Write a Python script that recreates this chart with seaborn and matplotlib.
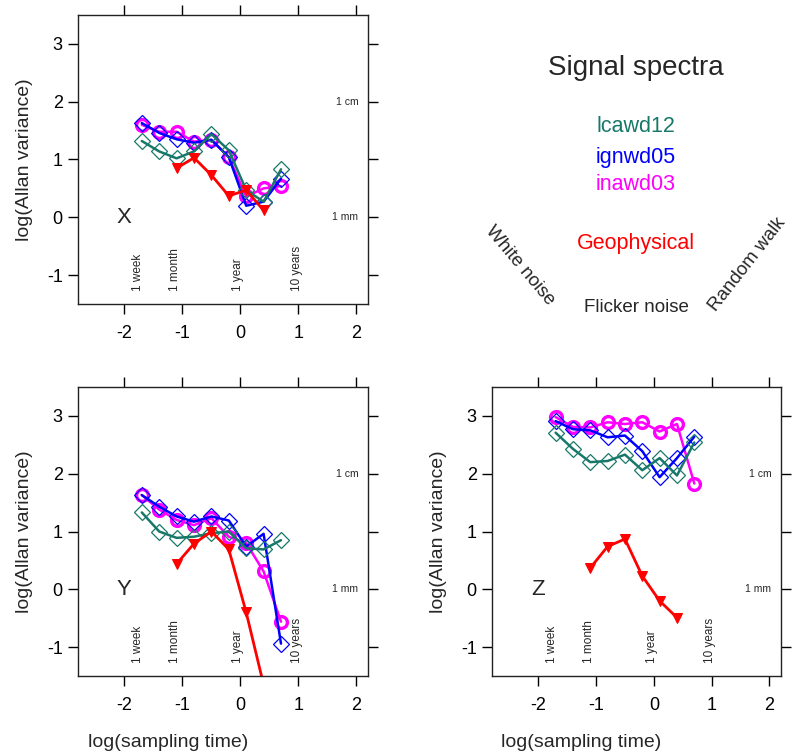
import numpy as np
import pandas as pd
import matplotlib
matplotlib.use("Agg")
import matplotlib.pyplot as plt
import seaborn as sns

# ---------------- data ----------------
log_tau = [-1.7, -1.4, -1.1, -0.8, -0.5, -0.2, 0.1, 0.4, 0.7]
log_tau_geo = [-1.1, -0.8, -0.5, -0.2, 0.1, 0.4]

x_lcawd12 = [1.32, 1.14, 1.02, 1.14, 1.44, 1.16, 0.47, 0.27, 0.83]
x_ignwd05 = [1.63, 1.46, 1.35, 1.29, 1.34, 1.04, 0.20, 0.27, 0.67]
x_inawd03 = [1.60, 1.48, 1.48, 1.31, 1.34, 1.04, 0.36, 0.50, 0.54]
x_geo = [0.85, 1.03, 0.73, 0.37, 0.47, 0.12]

y_lcawd12 = [1.33, 1.00, 0.89, 0.91, 0.97, 1.00, 0.71, 0.69, 0.85]
y_ignwd05 = [1.63, 1.43, 1.26, 1.17, 1.26, 1.19, 0.74, 0.96, -0.94]
y_inawd03 = [1.63, 1.38, 1.20, 1.11, 1.23, 0.91, 0.80, 0.31, -0.56]
y_geo = [0.44, 0.79, 1.00, 0.69, -0.40, -1.65]

z_lcawd12 = [2.71, 2.43, 2.20, 2.22, 2.33, 2.06, 2.27, 1.97, 2.54]
z_ignwd05 = [2.91, 2.77, 2.75, 2.63, 2.66, 2.39, 1.94, 2.27, 2.64]
z_inawd03 = [2.98, 2.81, 2.80, 2.89, 2.86, 2.89, 2.73, 2.86, 1.83]
z_geo = [0.37, 0.74, 0.87, 0.23, -0.20, -0.49]

time_labels = ["1 week", "1 month", "1 year", "10 years"]
time_label_pos = [-1.76, -1.12, -0.04, 0.97]
scale_labels = ["1 cm", "1 mm"]
scale_label_pos = [2, 0]
x_ticks = [-2, -1, 0, 1, 2]
y_ticks = [-1, 0, 1, 2, 3]
panel_names = ["X", "Y", "Z"]
series_names = ["lcawd12", "ignwd05", "inawd03", "Geophysical"]

# ---------------- style ----------------
sns.set_style("ticks")
plt.rcParams["font.family"] = ["Liberation Sans", "DejaVu Sans"]
plt.rcParams["axes.linewidth"] = 1.0

C_TEAL = "#17786a"
C_BLUE = "#0000ff"
C_MAG = "#ff00ff"
C_RED = "#ff0000"

fig = plt.figure(figsize=(7.99, 7.52), dpi=100)
W, H = 799, 752

def axes_px(left, top, right, bottom):
    return fig.add_axes([left / W, 1 - bottom / H, (right - left) / W, (bottom - top) / H])

ax_x = axes_px(78, 15, 368, 304)
ax_y = axes_px(78, 387, 368, 676)
ax_z = axes_px(492, 387, 781, 676)

panels = [
    (ax_x, x_lcawd12, x_ignwd05, x_inawd03, x_geo, False),
    (ax_y, y_lcawd12, y_ignwd05, y_inawd03, y_geo, True),
    (ax_z, z_lcawd12, z_ignwd05, z_inawd03, z_geo, True),
]

for (ax, lc, ig, ina, geo, show_xlabel), name in zip(panels, panel_names):
    sns.lineplot(x=log_tau, y=ina, ax=ax, color=C_MAG, lw=1.8, marker="o",
                 markersize=8.5, markerfacecolor="none", markeredgecolor=C_MAG,
                 markeredgewidth=2.4, estimator=None, sort=False)
    sns.lineplot(x=log_tau, y=ig, ax=ax, color=C_BLUE, lw=1.8, marker="D",
                 markersize=8, markerfacecolor="none", markeredgecolor=C_BLUE,
                 markeredgewidth=0.9, estimator=None, sort=False)
    sns.lineplot(x=log_tau, y=lc, ax=ax, color=C_TEAL, lw=1.8, marker="D",
                 markersize=8, markerfacecolor="none", markeredgecolor=C_TEAL,
                 markeredgewidth=0.9, estimator=None, sort=False)
    sns.lineplot(x=log_tau_geo, y=geo, ax=ax, color=C_RED, lw=2.0, marker="v",
                 markersize=7, markerfacecolor=C_RED, markeredgecolor=C_RED,
                 estimator=None, sort=False)

    ax.set_xlim(-2.8, 2.2)
    ax.set_ylim(-1.5, 3.5)
    ax.set_xticks(x_ticks)
    ax.set_yticks(y_ticks)
    ax.set_xticklabels([str(t) for t in x_ticks])
    ax.set_yticklabels([str(t) for t in y_ticks])
    ax.tick_params(axis="both", which="both", direction="out", length=7,
                   width=1.0, top=True, right=True, labelsize=13, pad=4,
                   colors="black")
    ax.tick_params(axis="x", pad=8)
    for sp in ax.spines.values():
        sp.set_visible(True)
        sp.set_color("#222222")

    ax.set_ylabel("log(Allan variance)", fontsize=14, labelpad=10)
    if show_xlabel:
        ax.set_xlabel("log(sampling time)", fontsize=14)
        ax.xaxis.set_label_coords(0.31, -0.2)
    else:
        ax.set_xlabel("")

    ax.text(-2.0, 0.0, name, fontsize=16, ha="center", va="center")
    for lab, pos in zip(time_labels, time_label_pos):
        ax.text(pos, -1.28, lab, fontsize=8.5, rotation=90, ha="center", va="bottom")
    for lab, pos in zip(scale_labels, scale_label_pos):
        ax.text(0.967, pos, lab, fontsize=7.5, ha="right", va="center",
                transform=ax.get_yaxis_transform())

# ---------------- legend panel ----------------
fig.text(636 / W, 1 - 68 / H, "Signal spectra", fontsize=20, ha="center", va="center")
legend_colors = [C_TEAL, C_BLUE, C_MAG, C_RED]
legend_y = [127, 157, 185, 243]
for nm, c, yy in zip(series_names, legend_colors, legend_y):
    fig.text(636 / W, 1 - yy / H, nm, fontsize=15.5, color=c, ha="center", va="center")
fig.text(636 / W, 1 - 307 / H, "Flicker noise", fontsize=13.5, ha="center", va="center")
fig.text(520 / W, 1 - 266 / H, "White noise", fontsize=13.5, ha="center", va="center",
         rotation=-50, rotation_mode="anchor")
fig.text(747 / W, 1 - 264 / H, "Random walk", fontsize=13.5, ha="center", va="center",
         rotation=52, rotation_mode="anchor")

fig.savefig("out.png", dpi=100)
